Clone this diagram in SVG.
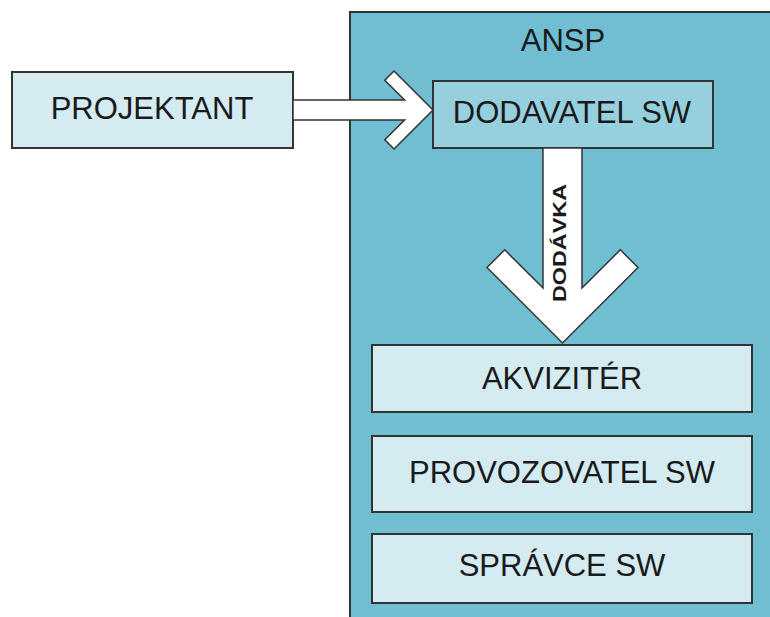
<svg xmlns="http://www.w3.org/2000/svg" width="770" height="617" viewBox="0 0 770 617">
  <style>
    .box { stroke: #333; stroke-width: 2; }
    .light { fill: #d3ebf1; }
    .mid { fill: #96d0de; }
    .frame { fill: #70bed2; stroke: #333; stroke-width: 2; }
    .lbl { font-family: "Liberation Sans", Arial, sans-serif; font-size: 31px; fill: #1a1a1a; text-anchor: middle; }
    .arrow { fill: #ffffff; stroke: #333; stroke-width: 1.5; stroke-linejoin: miter; }
    .arrlbl { font-family: "Liberation Sans", Arial, sans-serif; font-size: 19px; font-weight: bold; fill: #1a1a1a; text-anchor: middle; }
  </style>

  <rect width="770" height="617" fill="#ffffff"/>

  <!-- ANSP container -->
  <g id="ansp">
    <rect class="frame" x="350" y="12" width="440" height="620"/>
    <text class="lbl" x="563" y="51">ANSP</text>
  </g>

  <g id="projektant">
    <rect class="box light" x="12" y="72" width="281" height="76"/>
    <text class="lbl" x="152" y="119">PROJEKTANT</text>
  </g>

  <g id="dodavatel">
    <rect class="box mid" x="433" y="81" width="280" height="67"/>
    <text class="lbl" x="572" y="123">DODAVATEL SW</text>
  </g>

  <g id="akviziter">
    <rect class="box light" x="372" y="345" width="380" height="67"/>
    <text class="lbl" x="562" y="389">AKVIZITÉR</text>
  </g>

  <g id="provozovatel">
    <rect class="box light" x="372" y="436" width="380" height="76"/>
    <text class="lbl" x="562" y="483">PROVOZOVATEL SW</text>
  </g>

  <g id="spravce">
    <rect class="box light" x="372" y="534" width="380" height="69"/>
    <text class="lbl" x="562" y="576">SPRÁVCE SW</text>
  </g>

  <!-- block arrows -->
  <g id="connectors">
    <polygon class="arrow" points="293,100 404.6,100 384.8,80.2 394,71 433,110 394,149 384.8,139.8 404.6,120 293,120"/>
    <polygon class="arrow" points="543,148 582,148 582,288 620.3,249.8 638,267.5 562.5,343 487,267.5 504.7,249.8 543,288"/>
    <text class="arrlbl" transform="translate(566,243) rotate(-90)" x="0" y="0" textLength="118" lengthAdjust="spacingAndGlyphs">DODÁVKA</text>
  </g>
</svg>
